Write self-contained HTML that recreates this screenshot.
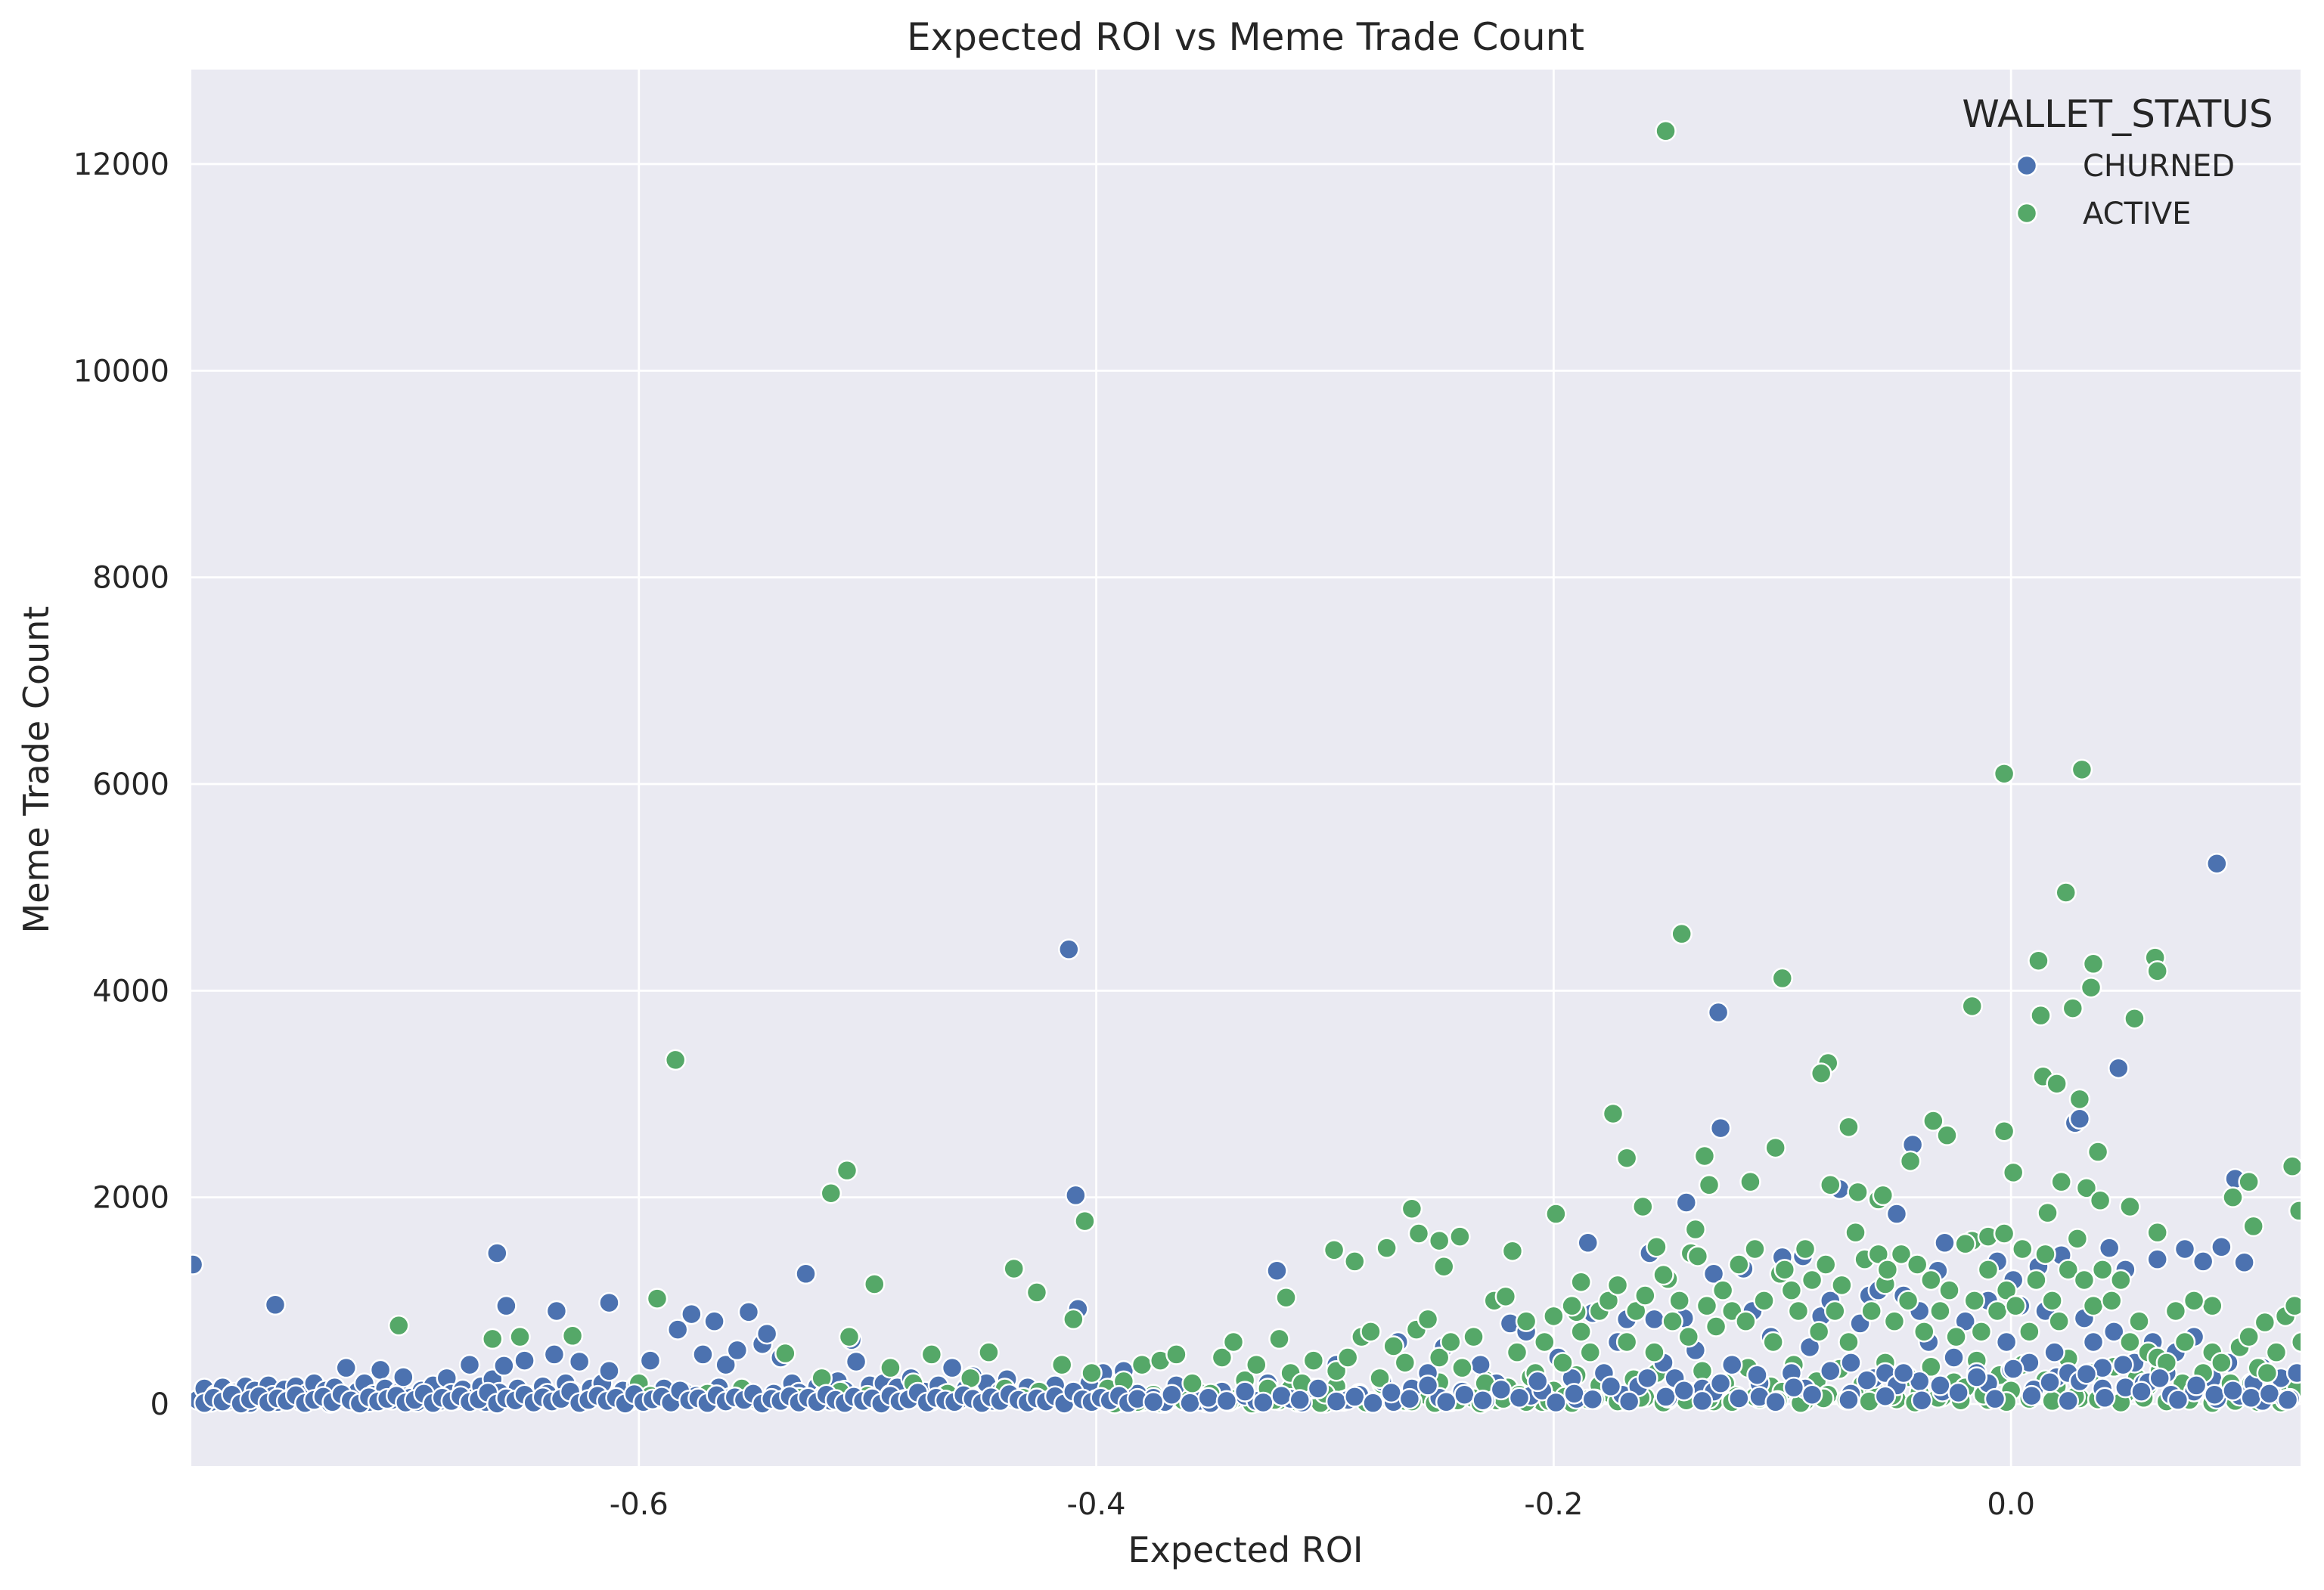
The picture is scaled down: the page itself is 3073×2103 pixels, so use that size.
<!DOCTYPE html>
<html><head><meta charset="utf-8"><style>
html,body{margin:0;padding:0;background:#fff;}
svg{display:block;font-family:"DejaVu Sans","Liberation Sans",sans-serif;}
</style></head><body>
<svg id="chart" width="3073" height="2103" viewBox="0 0 3073 2103" xmlns="http://www.w3.org/2000/svg">
<rect x="0" y="0" width="3073" height="2103" fill="#fff"/>
<rect x="253" y="92" width="2789" height="1847" fill="#eaeaf2"/>
<g id="grid"></g>
<defs><clipPath id="clip"><rect x="253" y="92" width="2789" height="1847"/></clipPath></defs>
<g id="points" clip-path="url(#clip)"></g>
<g id="ticks"></g>
<text x="1647" y="66" text-anchor="middle" font-size="50" fill="#262626">Expected ROI vs Meme Trade Count</text>
<text x="1647" y="2066" text-anchor="middle" font-size="46" fill="#262626">Expected ROI</text>
<text x="0" y="0" transform="translate(64,1018) rotate(-90)" text-anchor="middle" font-size="46" fill="#262626">Meme Trade Count</text>
<g>
<text x="2800" y="168" text-anchor="middle" font-size="50" fill="#262626">WALLET_STATUS</text>
<g>
<circle cx="2680" cy="219" r="13" fill="#4c72b0" stroke="#fff" stroke-width="2.5"/>
<text x="2754" y="233" font-size="40" fill="#262626">CHURNED</text>
</g>
<g>
<circle cx="2680" cy="282" r="13" fill="#55a868" stroke="#fff" stroke-width="2.5"/>
<text x="2754" y="296" font-size="40" fill="#262626">ACTIVE</text>
</g>
</g>
</svg>
<script>
const xTicks = [-0.6, -0.4, -0.2, 0.0];
const xTickLabels = ["-0.6", "-0.4", "-0.2", "0.0"];
const yTicks = [0, 2000, 4000, 6000, 8000, 10000, 12000];
const yTickLabels = ["0", "2000", "4000", "6000", "8000", "10000", "12000"];
const churnedRoi = [-0.795,-0.793,-0.79,-0.787,-0.785,-0.782,-0.78,-0.777,-0.775,-0.772,-0.77,-0.768,-0.765,-0.762,-0.76,-0.759,-0.758,-0.755,-0.752,-0.75,-0.748,-0.745,-0.742,-0.74,-0.737,-0.735,-0.733,-0.73,-0.728,-0.726,-0.723,-0.72,-0.718,-0.716,-0.713,-0.711,-0.708,-0.705,-0.703,-0.7,-0.697,-0.695,-0.692,-0.69,-0.687,-0.684,-0.682,-0.68,-0.677,-0.674,-0.672,-0.669,-0.667,-0.664,-0.662,-0.661,-0.659,-0.658,-0.656,-0.653,-0.65,-0.648,-0.645,-0.642,-0.64,-0.637,-0.636,-0.634,-0.632,-0.629,-0.626,-0.624,-0.621,-0.618,-0.616,-0.613,-0.613,-0.61,-0.607,-0.604,-0.601,-0.598,-0.595,-0.592,-0.589,-0.586,-0.583,-0.58,-0.577,-0.575,-0.572,-0.57,-0.567,-0.565,-0.562,-0.56,-0.557,-0.554,-0.552,-0.549,-0.546,-0.544,-0.541,-0.538,-0.535,-0.533,-0.53,-0.527,-0.525,-0.522,-0.519,-0.516,-0.513,-0.51,-0.507,-0.505,-0.502,-0.499,-0.496,-0.493,-0.49,-0.487,-0.484,-0.481,-0.478,-0.475,-0.472,-0.469,-0.466,-0.463,-0.46,-0.457,-0.454,-0.451,-0.448,-0.445,-0.442,-0.439,-0.436,-0.433,-0.43,-0.427,-0.424,-0.421,-0.418,-0.415,-0.412,-0.409,-0.408,-0.406,-0.403,-0.4,-0.397,-0.394,-0.391,-0.388,-0.385,-0.382,
-0.375,-0.37,-0.365,-0.355,-0.35,-0.345,-0.335,-0.33,-0.325,-0.321,-0.315,-0.31,-0.305,-0.295,-0.29,-0.285,-0.275,-0.27,-0.268,-0.262,-0.255,-0.25,-0.248,-0.24,-0.232,-0.23,-0.225,-0.219,-0.212,-0.21,-0.205,-0.198,-0.192,-0.19,-0.185,-0.183,-0.178,-0.172,-0.17,-0.168,-0.163,-0.158,-0.156,-0.152,-0.15,-0.147,-0.143,-0.142,-0.138,-0.135,-0.13,-0.13,-0.128,-0.127,-0.122,-0.117,-0.113,-0.11,-0.11,-0.105,-0.1,-0.096,-0.091,-0.09,-0.088,-0.083,-0.079,-0.075,-0.07,-0.07,-0.066,-0.062,-0.06,-0.058,-0.055,-0.05,-0.05,-0.047,-0.043,-0.04,-0.04,-0.036,-0.032,-0.03,-0.029,-0.025,-0.02,-0.015,-0.01,-0.01,-0.006,-0.002,0.0,0.001,0.004,0.008,0.01,0.012,0.015,0.019,0.02,0.022,0.025,0.028,0.03,0.03,0.032,0.036,0.04,0.04,0.043,0.045,0.047,0.05,0.05,0.054,0.058,0.06,0.062,0.064,0.068,0.07,0.072,0.076,0.08,0.08,0.084,0.088,0.09,0.09,0.092,0.095,0.098,0.1,0.102,0.106,0.11,0.11,0.114,0.118,0.12,0.122,0.125];
const churnedTrades = [1350,40,150,20,90,160,30,110,60,170,10,130,50,180,80,960,20,140,60,170,30,100,200,50,130,10,160,70,350,40,120,200,20,90,330,150,40,110,260,60,20,130,80,180,30,250,100,40,140,380,60,170,20,240,1460,110,370,950,50,150,420,80,30,170,100,480,900,50,200,120,410,30,150,90,200,320,980,60,130,30,180,100,420,50,150,30,720,110,870,80,480,40,800,160,380,60,520,130,890,40,580,680,100,450,60,200,110,1260,50,170,90,30,220,130,620,410,60,180,30,200,90,160,40,250,70,120,30,180,90,350,40,150,270,60,200,30,120,240,50,90,160,40,110,70,180,30,4400,2020,920,90,200,40,300,70,150,320,40,100,
60,20,180,30,10,120,80,30,200,1290,50,15,150,380,40,90,220,20,600,150,300,60,550,120,380,30,200,780,700,80,130,450,250,50,1560,880,300,600,90,820,170,1460,820,400,60,250,830,1950,520,150,1260,120,3790,2670,380,1310,900,200,70,650,1420,300,1430,150,550,850,1000,2080,400,100,780,1050,250,1100,300,1840,180,1050,2510,900,220,600,1290,120,1560,450,800,300,1000,200,1380,600,330,1200,950,400,140,1330,900,500,260,1440,300,2720,2760,220,830,600,350,150,1510,700,3250,1300,160,400,200,210,600,1400,300,90,500,1500,650,120,1380,250,5230,50,1520,400,2180,80,1370,200,350,30,100,250,40,50,300];
const churnedLowRoi = [-0.790,-0.786,-0.782,-0.778,-0.774,-0.770,-0.766,-0.762,-0.758,-0.754,-0.750,-0.746,-0.742,-0.738,-0.734,-0.730,-0.726,-0.722,-0.718,-0.714,-0.710,-0.706,-0.702,-0.698,-0.694,-0.690,-0.686,-0.682,-0.678,-0.674,-0.670,-0.666,-0.662,-0.658,-0.654,-0.650,-0.646,-0.642,-0.638,-0.634,-0.630,-0.626,-0.622,-0.618,-0.614,-0.610,-0.606,-0.602,-0.598,-0.594,-0.590,-0.586,-0.582,-0.578,-0.574,-0.570,-0.566,-0.562,-0.558,-0.554,-0.550,-0.546,-0.542,-0.538,-0.534,-0.530,-0.526,-0.522,-0.518,-0.514,-0.510,-0.506,-0.502,-0.498,-0.494,-0.490,-0.486,-0.482,-0.478,-0.474,-0.470,-0.466,-0.462,-0.458,-0.454,-0.450,-0.446,-0.442,-0.438,-0.434,-0.430,-0.426,-0.422,-0.418,-0.414,-0.410,-0.406,-0.402,-0.398,-0.394,-0.390,-0.386,-0.382,
-0.375,-0.367,-0.359,-0.351,-0.343,-0.335,-0.327,-0.319,-0.311,-0.303,-0.295,-0.287,-0.279,-0.271,-0.263,-0.255,-0.247,-0.239,-0.231,-0.223,-0.215,-0.207,-0.199,-0.191,-0.183,-0.175,-0.167,-0.159,-0.151,-0.143,-0.135,-0.127,-0.119,-0.111,-0.103,-0.095,-0.087,-0.079,-0.071,-0.063,-0.055,-0.047,-0.039,-0.031,-0.023,-0.015,-0.007,0.001,0.009,0.017,0.025,0.033,0.041,0.049,0.057,0.065,0.073,0.081,0.089,0.097,0.105,0.113,0.121];
const churnedLowTrades = [10,60,25,90,5,45,75,15,55,30,85,10,40,70,20,95,35,5,65,25,50,80,15,40,100,10,60,30,75,20,45,110,5,55,35,90,15,65,25,50,120,10,40,80,30,60,5,95,20,45,70,15,130,35,55,10,85,25,65,40,100,5,50,30,75,15,60,20,90,40,10,70,30,55,5,80,25,45,110,15,60,35,20,85,50,10,65,30,95,40,15,55,25,75,5,120,45,20,60,35,80,10,50,
20,90,10,60,30,120,15,80,40,150,25,70,10,110,50,180,20,90,35,140,60,220,15,100,45,170,25,250,70,130,30,200,55,280,20,160,90,320,40,230,75,300,35,180,110,260,50,340,80,210,30,290,60,380,120,250,40,180,90,130,60,100,40];
const activeRoi = [-0.151,-0.003,0.031,0.024,-0.144,-0.1,0.012,0.036,0.035,0.063,0.064,0.054,-0.017,0.027,0.013,-0.08,-0.083,0.014,0.02,0.03,-0.584,-0.174,-0.168,-0.071,-0.028,-0.034,-0.003,-0.103,-0.044,-0.134,0.038,0.123,-0.509,-0.516,0.001,-0.114,-0.132,0.022,-0.079,0.104,0.097,0.033,0.039,-0.161,-0.199,-0.058,-0.056,-0.405,-0.262,-0.259,-0.25,-0.241,-0.248,-0.218,-0.296,-0.287,-0.273,0.052,-0.017,-0.01,-0.003,0.016,0.106,0.126,-0.497,-0.436,-0.426,-0.41,-0.317,-0.592,-0.155,-0.14,-0.138,-0.188,-0.19,-0.15,-0.101,0.064,0.088,0.111,-0.055,-0.068,-0.705,-0.664,-0.652,-0.629,-0.508,-0.536,
-0.6,-0.595,-0.57,-0.555,-0.548,-0.53,-0.52,-0.512,-0.5,-0.49,-0.48,-0.472,-0.465,-0.455,-0.447,-0.44,-0.432,-0.425,-0.415,-0.402,-0.395,-0.388,-0.38,-0.372,-0.365,-0.358,-0.35,-0.345,-0.34,-0.335,-0.33,-0.325,-0.32,-0.315,-0.31,-0.305,-0.3,-0.295,-0.29,-0.284,-0.28,-0.276,-0.27,-0.265,-0.26,-0.255,-0.25,-0.245,-0.24,-0.235,-0.23,-0.226,-0.221,-0.216,-0.212,-0.208,-0.204,-0.2,-0.196,-0.192,-0.188,-0.184,-0.18,-0.176,-0.172,-0.168,-0.164,-0.16,-0.156,-0.152,-0.148,-0.145,-0.141,-0.137,-0.133,-0.129,-0.126,-0.122,-0.119,-0.116,-0.112,-0.108,-0.104,-0.099,-0.096,-0.093,-0.09,-0.087,-0.084,-0.081,-0.077,-0.074,-0.071,-0.067,-0.064,-0.061,-0.058,-0.054,-0.051,-0.048,-0.045,-0.041,-0.038,-0.035,-0.031,-0.027,-0.024,-0.02,-0.016,-0.013,-0.01,-0.006,-0.002,0.002,0.005,0.008,0.011,0.015,0.018,0.021,0.025,0.029,0.032,0.036,0.04,0.044,0.048,0.052,0.056,0.06,0.064,0.068,0.072,0.076,0.08,0.084,0.088,0.092,0.096,0.1,0.104,0.108,0.112,0.116,0.12,0.124,0.127];
const activeTrades = [12320,6100,6140,4950,4550,4120,4290,4260,4030,4320,4190,3730,3850,3830,3760,3300,3200,3170,3100,2950,3330,2810,2380,2680,2600,2740,2640,2480,2350,2400,2440,2300,2260,2040,2240,2150,2120,2150,2120,2150,2000,2090,1970,1910,1840,1980,2020,1770,1890,1650,1580,1620,1330,1480,1490,1380,1510,1910,1580,1620,1650,1850,1720,1870,1160,1310,1080,820,1030,1020,1520,1460,1690,1180,890,1210,1260,1660,950,790,1160,1660,760,630,650,660,650,490,
200,80,100,150,30,60,250,120,80,350,200,480,100,250,500,150,60,120,380,300,150,220,380,420,480,200,100,450,600,230,380,150,630,300,200,420,100,320,450,650,700,250,560,400,720,820,450,600,350,650,200,1000,1040,500,800,300,600,850,400,950,700,500,900,1000,1150,600,900,1050,500,1250,800,1000,650,1430,950,750,1100,900,1350,800,1500,1000,600,1300,1100,900,1500,1200,700,1350,900,1150,600,2050,1400,900,1450,1300,800,1450,1000,1350,700,1200,900,1100,650,1550,1000,700,1300,900,1100,950,1500,700,1200,1450,1000,800,1300,1600,1200,950,1300,1000,1200,600,800,500,450,400,900,600,1000,300,500,400,200,550,650,350,300,500,850,950,600];
const activeLowRoi = [-0.395,-0.39,-0.385,-0.38,-0.375,-0.37,-0.365,-0.36,-0.355,-0.35,-0.345,-0.34,-0.335,-0.33,-0.325,-0.32,-0.315,-0.31,-0.305,-0.3,-0.295,-0.29,-0.285,-0.28,-0.275,-0.27,-0.265,-0.26,-0.255,-0.25,-0.245,-0.24,-0.235,-0.23,-0.225,-0.22,-0.215,-0.21,-0.205,-0.2,-0.195,-0.19,-0.185,-0.18,-0.175,-0.17,-0.165,-0.16,-0.155,-0.15,-0.145,-0.14,-0.135,-0.13,-0.125,-0.12,-0.115,-0.11,-0.105,-0.1,-0.095,-0.09,-0.085,-0.08,-0.075,-0.07,-0.065,-0.06,-0.055,-0.05,-0.045,-0.04,-0.035,-0.03,-0.025,-0.02,-0.015,-0.01,-0.005,0.0,0.005,0.01,0.015,0.02,0.025,0.03,0.035,0.04,0.045,0.05,0.055,0.06,0.065,0.07,0.075,0.08,0.085,0.09,0.095,0.1,0.105,0.11,0.115,0.12,0.125,
-0.392,-0.382,-0.372,-0.362,-0.352,-0.342,-0.332,-0.322,-0.312,-0.302,-0.292,-0.282,-0.272,-0.262,-0.252,-0.242,-0.232,-0.222,-0.212,-0.202,-0.192,-0.182,-0.172,-0.162,-0.152,-0.142,-0.132,-0.122,-0.112,-0.102,-0.092,-0.082,-0.072,-0.062,-0.052,-0.042,-0.032,-0.022,-0.012,-0.002,0.008,0.018,0.028,0.038,0.048,0.058,0.068,0.078,0.088,0.098,0.108,0.118];
const activeLowTrades = [40,15,70,25,90,10,55,30,110,20,75,45,130,15,60,35,150,25,80,10,170,45,100,20,190,60,30,140,80,210,25,120,55,230,35,160,90,260,20,130,70,280,45,180,100,30,240,65,300,40,150,110,320,25,200,75,350,50,170,120,380,30,220,90,340,60,190,140,400,45,260,110,360,70,210,160,420,40,280,130,380,90,230,170,440,55,300,140,360,100,250,180,320,70,200,120,260,50,150,90,200,40,120,80,160,
5,20,10,35,15,25,5,40,20,10,30,15,45,25,10,35,5,50,20,30,10,45,25,60,15,35,50,20,70,30,10,55,40,25,80,15,60,35,90,20,50,30,70,45,15,60,25,40,10,30,20,15];

const X0 = -0.7957, X1 = 0.1266, PX0 = 253, PX1 = 3042;
const Y0 = 0, PY0 = 1857, PPU = 1640 / 12000;
function sx(v){ return PX0 + (v - X0) / (X1 - X0) * (PX1 - PX0); }
function sy(v){ return PY0 - (v - Y0) * PPU; }
const NS = "http://www.w3.org/2000/svg";
const grid = document.getElementById('grid');
const ticks = document.getElementById('ticks');
xTicks.forEach((t, i) => {
  const l = document.createElementNS(NS, 'line');
  l.setAttribute('x1', sx(t)); l.setAttribute('x2', sx(t));
  l.setAttribute('y1', 92); l.setAttribute('y2', 1939);
  l.setAttribute('stroke', '#fff'); l.setAttribute('stroke-width', 2.8);
  
  
  grid.appendChild(l);
  const tx = document.createElementNS(NS, 'text');
  tx.setAttribute('x', sx(t)); tx.setAttribute('y', 2003);
  tx.setAttribute('text-anchor', 'middle'); tx.setAttribute('font-size', 40); tx.setAttribute('fill', '#262626');
  tx.textContent = xTickLabels[i];
  
  
  ticks.appendChild(tx);
});
yTicks.forEach((t, i) => {
  const l = document.createElementNS(NS, 'line');
  l.setAttribute('x1', 253); l.setAttribute('x2', 3042);
  l.setAttribute('y1', sy(t)); l.setAttribute('y2', sy(t));
  l.setAttribute('stroke', '#fff'); l.setAttribute('stroke-width', 2.8);
  
  
  grid.appendChild(l);
  const tx = document.createElementNS(NS, 'text');
  tx.setAttribute('x', 224); tx.setAttribute('y', sy(t) + 14);
  tx.setAttribute('text-anchor', 'end'); tx.setAttribute('font-size', 40); tx.setAttribute('fill', '#262626');
  tx.textContent = yTickLabels[i];
  
  
  ticks.appendChild(tx);
});
const pts = document.getElementById('points');
function drawSeries(xs, ys, color, name){
  const n = Math.min(xs.length, ys.length);
  for (let i = 0; i < n; i++){
    const c = document.createElementNS(NS, 'circle');
    c.setAttribute('cx', sx(xs[i])); c.setAttribute('cy', sy(ys[i]));
    c.setAttribute('r', 13); c.setAttribute('fill', color);
    c.setAttribute('stroke', '#fff'); c.setAttribute('stroke-width', 2.5);
    
    
    pts.appendChild(c);
  }
}
drawSeries(activeLowRoi, activeLowTrades, '#55a868', 'active-point');
drawSeries(churnedRoi, churnedTrades, '#4c72b0', 'churned-point');
drawSeries(activeRoi, activeTrades, '#55a868', 'active-point');
drawSeries(churnedLowRoi, churnedLowTrades, '#4c72b0', 'churned-point');
</script>
</body></html>
